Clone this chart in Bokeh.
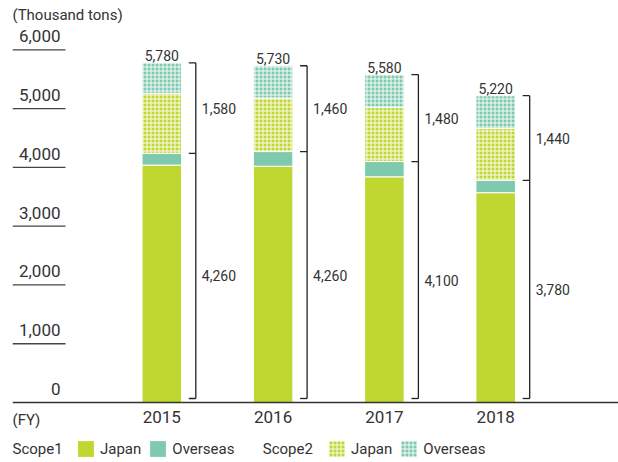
import numpy as np
from bokeh.plotting import figure
from bokeh.models import (ColumnDataSource, Range1d, FixedTicker, NumeralTickFormatter,
                          Legend, LegendItem, Label, LinearAxis, Span, Arrow)
from bokeh.embed import file_html
from bokeh.resources import INLINE
from bokeh.core.properties import value

# ---------------- data ----------------
years = ["2015", "2016", "2017", "2018"]
scope1_japan = [4040, 4020, 3840, 3570]
scope1_overseas = [200, 250, 260, 210]
scope2_japan = [1020, 910, 925, 885]
scope2_overseas = [520, 550, 555, 555]
total_labels = ["5,780", "5,730", "5,580", "5,220"]
scope1_labels = ["4,260", "4,260", "4,100", "3,780"]
scope2_labels = ["1,580", "1,460", "1,480", "1,440"]
y_ticks = [0, 1000, 2000, 3000, 4000, 5000, 6000]

# ---------------- style ----------------
GREEN = "#c0d731"
TEAL = "#7fcaae"
TXT = "#333333"
FONT = "Roboto"

W, H = 618, 462
FRAME_L = 12          # frame left edge (px)
BASE = 402            # pixel row of value 0
PX_X = 111.3          # pixels per category step
PX_Y = 58.77          # pixels per 1000
BAR0 = 161.3          # pixel centre of first bar

x_start = -(BAR0 - FRAME_L) / PX_X
x_end = x_start + (W - FRAME_L) / PX_X
y_start = -(H - BASE) / PX_Y * 1000
y_end = BASE / PX_Y * 1000


def px_y(row):
    """data y of a pixel row"""
    return (BASE - row) / PX_Y * 1000


p = figure(width=W, height=H,
           x_range=Range1d(x_start, x_end), y_range=Range1d(y_start, y_end),
           min_border_left=FRAME_L, min_border_right=0, min_border_top=0, min_border_bottom=0,
           toolbar_location=None, output_backend="svg",
           y_axis_location=None)
p.outline_line_color = None
p.grid.visible = False
p.background_fill_color = "white"
p.border_fill_color = "white"

# y axis labels (shifted range so labels sit above their underline)
shift = 13.5 / PX_Y * 1000
p.extra_y_ranges = {"lbl": Range1d(y_start - shift, y_end - shift)}
yax = LinearAxis(y_range_name="lbl", ticker=FixedTicker(ticks=y_ticks),
                 formatter=NumeralTickFormatter(format="0,0"))
yax.axis_line_color = None
yax.major_tick_line_color = None
yax.minor_tick_line_color = None
yax.major_tick_in = 0
yax.major_tick_out = 0
yax.major_label_standoff = -48
yax.major_label_text_font = FONT
yax.major_label_text_font_size = "17px"
yax.major_label_text_color = TXT
p.add_layout(yax, "left")

# underlines under the y labels (head-less arrows = plain line annotations)
ul_y = [t for t in y_ticks if t > 0]
ul_src = ColumnDataSource(dict(x0=[x_start] * len(ul_y),
                               x1=[x_start + 53 / PX_X] * len(ul_y), y=ul_y))
p.add_layout(Arrow(end=None, start=None, source=ul_src,
                   x_start="x0", y_start="y", x_end="x1", y_end="y",
                   line_color="#444444", line_width=1.3))

# baseline
p.add_layout(Span(location=0, dimension="width", line_color="#333333", line_width=1.5))

# x axis (labels pulled up to just under the baseline)
xs = np.arange(len(years))
p.xaxis.ticker = FixedTicker(ticks=list(xs))
p.xaxis.major_label_overrides = {int(i): y for i, y in zip(xs, years)}
p.xaxis.axis_line_color = None
p.xaxis.major_tick_line_color = None
p.xaxis.minor_tick_line_color = None
p.xaxis.major_tick_in = 0
p.xaxis.major_tick_out = 0
p.xaxis.major_label_standoff = -(H - BASE) + 8
p.xaxis.major_label_text_font = FONT
p.xaxis.major_label_text_font_size = "17px"
p.xaxis.major_label_text_color = TXT

# bars
src = ColumnDataSource(dict(x=xs, s1j=scope1_japan, s1o=scope1_overseas,
                            s2j=scope2_japan, s2o=scope2_overseas))
rs = p.vbar_stack(["s1j", "s1o", "s2j", "s2o"], x="x", width=0.355, source=src,
                  fill_color=[GREEN, TEAL, GREEN, TEAL],
                  line_color="white", line_width=1,
                  hatch_pattern=[" ", " ", "cross", "cross"],
                  hatch_color="white", hatch_scale=4, hatch_weight=1, hatch_alpha=0.9)

s1j = np.array(scope1_japan); s1o = np.array(scope1_overseas)
s2j = np.array(scope2_japan); s2o = np.array(scope2_overseas)
s1t = s1j + s1o
tot = s1t + s2j + s2o

# brackets
bx = xs + 34 / PX_X
tx = xs + 27 / PX_X
bottom = 4 / PX_Y * 1000
p.segment(x0=bx, y0=[bottom] * len(xs), x1=bx, y1=tot, line_color="#222222", line_width=1.3)
tick_y = np.concatenate([[bottom] * len(xs), s1t, tot])
p.segment(x0=np.tile(tx, 3), y0=tick_y, x1=np.tile(bx, 3), y1=tick_y,
          line_color="#222222", line_width=1.3)

# value labels
p.text(x=xs, y=tot, text=total_labels, text_align="center", text_baseline="alphabetic",
       y_offset=-7, text_font=value(FONT), text_font_size="14px", text_color=TXT)
lx = bx + 6 / PX_X
p.text(x=lx, y=(tot + s1t) / 2, text=scope2_labels, text_align="left", text_baseline="middle",
       text_font=value(FONT), text_font_size="14px", text_color=TXT)
p.text(x=lx, y=(s1t + bottom) / 2, text=scope1_labels, text_align="left", text_baseline="middle",
       text_font=value(FONT), text_font_size="14px", text_color=TXT)


def lab(x, y, text, baseline="middle", size="15px"):
    p.add_layout(Label(x=x, y=y, text=text, text_align="left", text_baseline=baseline,
                       text_font=FONT, text_font_size=size, text_color=TXT))


lab(x_start, px_y(5), "(Thousand tons)", baseline="top")
lab(x_start, px_y(419), "(FY)")
lab(x_start, px_y(448.5), "Scope1")
lab(x_start + 250.3 / PX_X, px_y(448.5), "Scope2")

# legend glyphs are drawn with a 10% inset, so the box is enlarged
GLYPH = 21


def make_legend(items, loc):
    lg = Legend(items=items, location=loc, orientation="horizontal")
    lg.background_fill_color = None
    lg.border_line_color = None
    lg.padding = 0
    lg.margin = 0
    lg.spacing = 6
    lg.glyph_width = GLYPH
    lg.glyph_height = GLYPH
    lg.label_height = GLYPH
    lg.label_standoff = 4
    lg.label_text_font = FONT
    lg.label_text_font_size = "15px"
    lg.label_text_color = TXT
    return lg


legA = make_legend([LegendItem(label="Japan", renderers=[rs[0]]),
                    LegendItem(label="Overseas", renderers=[rs[1]])], (75 - FRAME_L, H - 459))
legB = make_legend([LegendItem(label="Japan", renderers=[rs[2]]),
                    LegendItem(label="Overseas", renderers=[rs[3]])], (326 - FRAME_L, H - 459))
p.add_layout(legA, "center")
p.add_layout(legB, "center")

open("out.html", "w").write(file_html(p, INLINE))
